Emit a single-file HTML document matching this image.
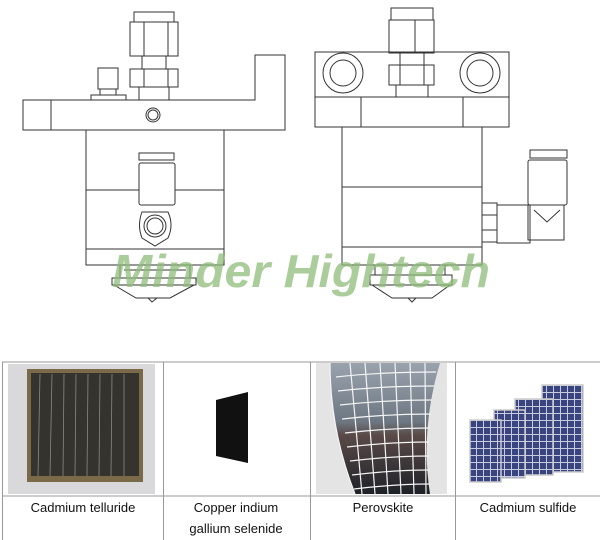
<!DOCTYPE html>
<html><head><meta charset="utf-8"><style>
html,body{margin:0;padding:0;background:#fff;width:600px;height:540px;overflow:hidden}
svg{display:block}
text{font-family:"Liberation Sans",sans-serif}
</style></head><body>
<svg width="600" height="540" viewBox="0 0 600 540" xmlns="http://www.w3.org/2000/svg">
<defs>
<linearGradient id="pv" x1="0" y1="0" x2="0" y2="1">
<stop offset="0" stop-color="#9aa3ad"/><stop offset="0.45" stop-color="#6d7782"/><stop offset="0.55" stop-color="#5a4a48"/><stop offset="1" stop-color="#1e2228"/></linearGradient>
<pattern id="cells" width="7" height="7" patternUnits="userSpaceOnUse"><rect width="7" height="7" fill="#3a4580"/><rect x="0" y="0" width="1" height="7" fill="#c8cce0"/><rect x="0" y="0" width="7" height="1" fill="#c8cce0"/></pattern>
</defs>
<g fill="none" stroke="#333" stroke-width="1">
<!-- LEFT DRAWING -->
<rect x="134" y="12" width="40" height="10"/>
<rect x="130" y="22" width="48" height="34"/>
<line x1="144" y1="22" x2="144" y2="56"/><line x1="168" y1="22" x2="168" y2="56"/>
<rect x="142" y="56" width="24" height="13"/>
<rect x="130" y="69" width="48" height="18"/>
<line x1="144" y1="69" x2="144" y2="87"/><line x1="168" y1="69" x2="168" y2="87"/>
<rect x="139" y="87" width="30" height="13"/>
<rect x="98" y="68" width="20" height="21"/>
<line x1="100" y1="89" x2="116" y2="89"/><rect x="91" y="95" width="35" height="5"/>
<line x1="100" y1="89" x2="100" y2="95"/><line x1="116" y1="89" x2="116" y2="95"/>
<path d="M23 100 H255 V55 H285 V130 H23 Z"/>
<line x1="51" y1="100" x2="51" y2="130"/>
<circle cx="153" cy="115" r="7"/><circle cx="153" cy="115" r="5"/>
<rect x="86" y="130" width="138" height="135"/>
<line x1="86" y1="190" x2="139" y2="190"/><line x1="175" y1="190" x2="224" y2="190"/>
<line x1="86" y1="249" x2="224" y2="249"/>
<rect x="139" y="153" width="35" height="7"/>
<rect x="139" y="163" width="36" height="42" rx="2"/>
<path d="M142 212 Q137 225 142 238 L155 246 L168 238 Q174 225 168 212 Z"/>
<circle cx="155" cy="226" r="11"/><circle cx="155" cy="226" r="8"/>
<path d="M120 265 V278 M190 265 V278 M112 278 H196 V285 H112 Z M114 285 L136 298 H170 L194 285"/>
<line x1="124" y1="270" x2="186" y2="270"/>
<path d="M148 298 L152 302 L157 298"/>
<!-- RIGHT DRAWING -->
<rect x="391" y="8" width="42" height="12"/>
<rect x="389" y="20" width="45" height="33"/>
<line x1="415" y1="20" x2="415" y2="53"/>
<rect x="315" y="52" width="194" height="75"/>
<line x1="315" y1="97" x2="509" y2="97"/>
<line x1="361" y1="97" x2="361" y2="127"/><line x1="463" y1="97" x2="463" y2="127"/>
<circle cx="343" cy="73" r="20"/><circle cx="343" cy="73" r="13"/>
<circle cx="480" cy="73" r="20"/><circle cx="480" cy="73" r="13"/>
<rect x="400" y="53" width="24" height="12"/>
<rect x="389" y="65" width="45" height="20"/>
<line x1="400" y1="65" x2="400" y2="85"/><line x1="424" y1="65" x2="424" y2="85"/>
<rect x="396" y="85" width="32" height="12"/>
<rect x="342" y="127" width="140" height="138"/>
<line x1="342" y1="187" x2="482" y2="187"/><line x1="342" y1="247" x2="482" y2="247"/>
<path d="M375 265 V275 M445 265 V275 M370 275 H452 V285 H370 Z M372 285 L392 298 H432 L450 285"/>
<path d="M408 298 L412 302 L416 298"/>
<rect x="482" y="203" width="15" height="39"/>
<line x1="482" y1="215" x2="497" y2="215"/><line x1="482" y1="230" x2="497" y2="230"/>
<rect x="497" y="205" width="33" height="38"/>
<rect x="530" y="150" width="37" height="8"/>
<rect x="528" y="160" width="39" height="45" rx="2"/>
<rect x="528" y="205" width="36" height="35"/>
<path d="M534 210 L547 222 L560 210"/>
</g>
<!-- watermark -->
<text x="112" y="287" font-size="46" font-weight="bold" font-style="italic" fill="#8fbc7a" fill-opacity="0.75" textLength="378" lengthAdjust="spacingAndGlyphs">Minder Hightech</text>
<!-- TABLE -->
<g stroke="#999" stroke-width="1" fill="none">
<line x1="2" y1="362" x2="600" y2="362"/>
<line x1="2" y1="496" x2="600" y2="496"/>
<line x1="2.5" y1="362" x2="2.5" y2="540"/>
<line x1="163.5" y1="362" x2="163.5" y2="540"/>
<line x1="310.5" y1="362" x2="310.5" y2="540"/>
<line x1="455.5" y1="362" x2="455.5" y2="540"/>
</g>
<!-- cell1 -->
<rect x="8" y="364" width="147" height="130" fill="#d9d9dc"/>
<rect x="27" y="369" width="116" height="113" fill="#7a6a4a"/>
<rect x="31" y="373" width="108" height="103" fill="#35332e"/>
<g stroke="#8a8a80" stroke-width="0.8"><line x1="40" y1="374" x2="38" y2="476"/><line x1="52" y1="374" x2="50" y2="476"/><line x1="64" y1="374" x2="63" y2="476"/><line x1="76" y1="374" x2="75" y2="476"/><line x1="88" y1="374" x2="87" y2="476"/><line x1="100" y1="374" x2="99" y2="476"/><line x1="112" y1="374" x2="111" y2="476"/><line x1="124" y1="374" x2="124" y2="476"/></g>
<!-- cell2 -->
<polygon points="216,400 248,392 248,463 216,456" fill="#111"/>
<!-- cell3 -->
<rect x="316" y="363" width="131" height="131" fill="#e4e4e4"/>
<path d="M330 363 H440 Q420 430 430 494 H355 Q330 430 330 363 Z" fill="url(#pv)"/>
<g stroke="#f4f4f4" stroke-width="1.2" fill="none">
<path d="M336 377 Q380 372 436 372"/><path d="M338 391 Q382 386 434 386"/><path d="M340 405 Q384 400 432 400"/><path d="M342 419 Q386 414 431 414"/><path d="M345 433 Q388 428 430 428"/><path d="M347 447 Q390 442 429 442"/><path d="M350 461 Q392 456 429 456"/><path d="M352 475 Q394 470 430 470"/><path d="M354 489 Q396 484 430 484"/>
<line x1="350" y1="363" x2="362" y2="494"/><line x1="365" y1="363" x2="375" y2="494"/><line x1="380" y1="363" x2="388" y2="494"/><line x1="395" y1="363" x2="401" y2="494"/><line x1="410" y1="363" x2="414" y2="494"/><line x1="425" y1="363" x2="426" y2="494"/>
<path d="M330 363 Q330 430 355 494"/>
</g>
<!-- cell4 -->
<g stroke="#ccc" stroke-width="1.5">
<rect x="542" y="385" width="41" height="87" fill="url(#cells)"/>
<rect x="515" y="399" width="38" height="76" fill="url(#cells)"/>
<rect x="494" y="410" width="31" height="68" fill="url(#cells)"/>
<rect x="470" y="420" width="31" height="62" fill="url(#cells)"/>
</g>
<!-- labels -->
<g font-family="Liberation Sans, sans-serif" font-size="13" fill="#111" text-anchor="middle">
<text x="83" y="512">Cadmium telluride</text>
<text x="236" y="512">Copper indium</text>
<text x="236" y="533">gallium selenide</text>
<text x="383" y="512">Perovskite</text>
<text x="528" y="512">Cadmium sulfide</text>
</g>
</svg>
</body></html>
